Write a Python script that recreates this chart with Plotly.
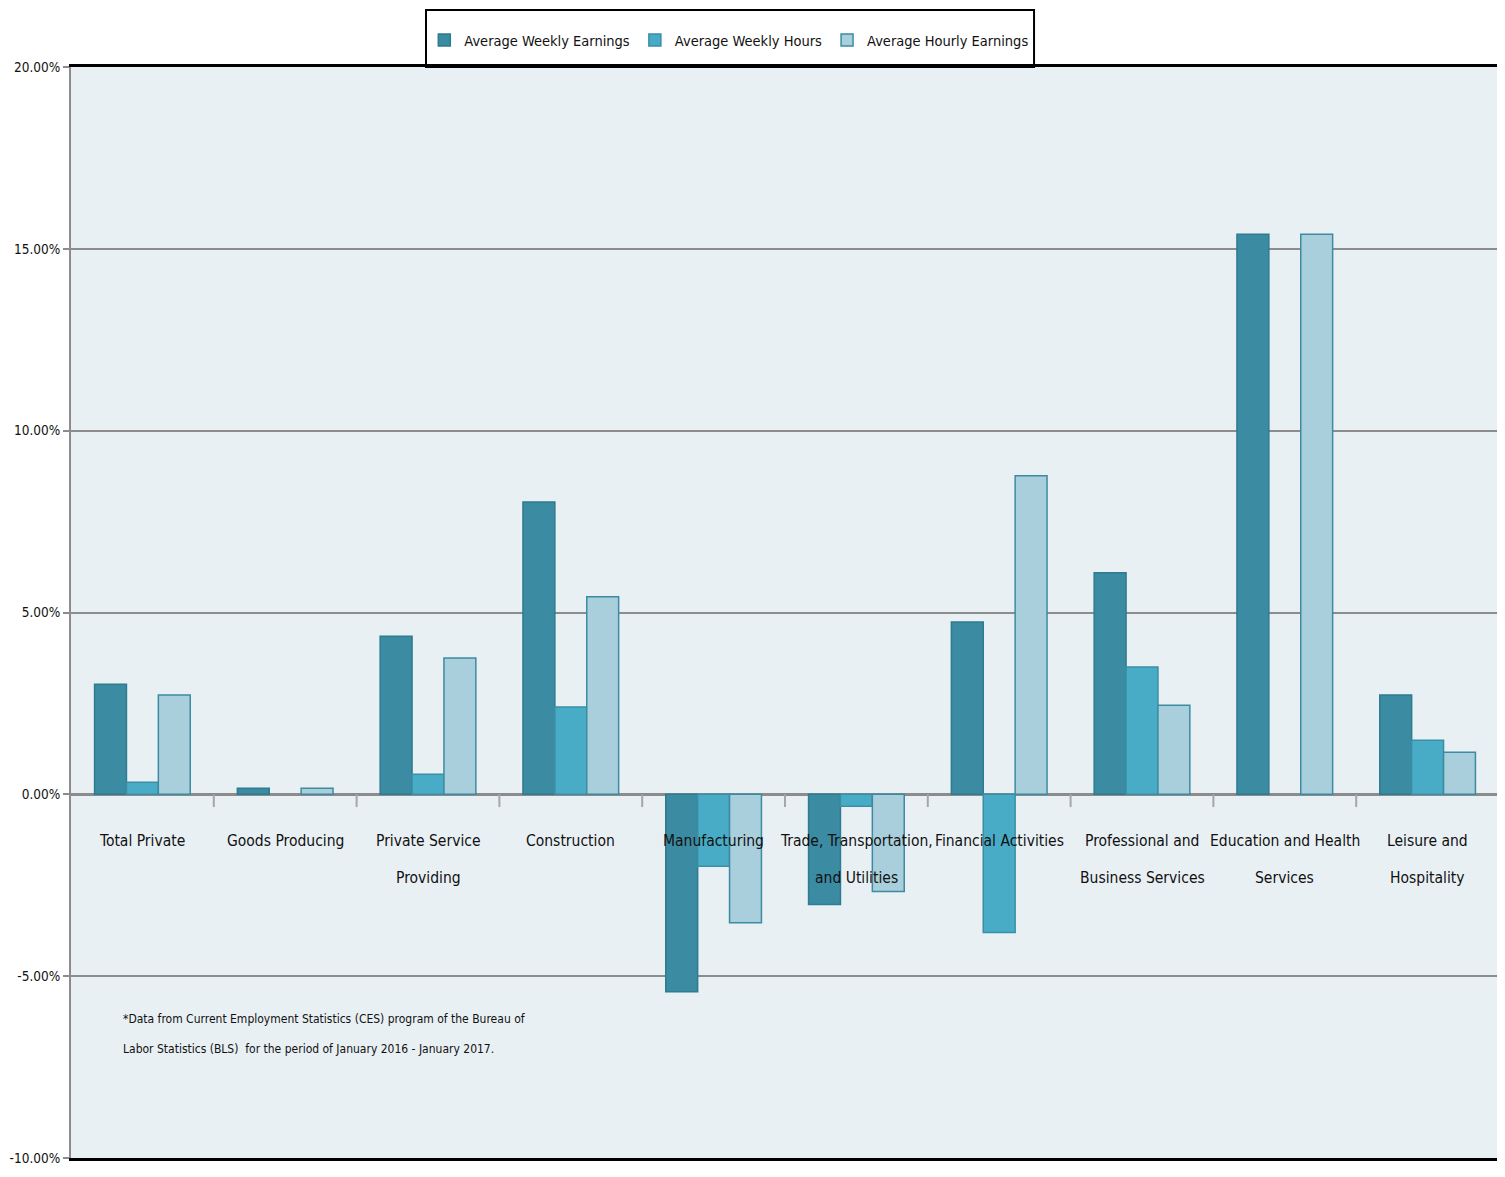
import plotly.graph_objects as go

categories = ["Total Private", "Goods Producing", "Private Service<br>Providing", "Construction",
              "Manufacturing", "Trade, Transportation,<br>and Utilities", "Financial Activities",
              "Professional and<br>Business Services", "Education and Health<br>Services",
              "Leisure and<br>Hospitality"]
avg_weekly_earnings = [3.03, 0.17, 4.35, 8.04, -5.43, -3.03, 4.74, 6.09, 15.40, 2.73]
avg_weekly_hours = [0.33, 0.0, 0.55, 2.40, -1.98, -0.33, -3.80, 3.50, 0.0, 1.49]
avg_hourly_earnings = [2.73, 0.17, 3.75, 5.43, -3.53, -2.67, 8.76, 2.45, 15.40, 1.16]
y_ticks = [-10, -5, 0, 5, 10, 15, 20]
y_tick_labels = ["-10.00%", "-5.00%", "0.00%", "5.00%", "10.00%", "15.00%", "20.00%"]
footnote_lines = ["*Data from Current Employment Statistics (CES) program of the Bureau of",
                  "Labor Statistics (BLS)  for the period of January 2016 - January 2017."]

FONT = "DejaVu Sans Condensed, Liberation Sans Narrow, sans-serif"
xs = list(range(len(categories)))

series = [
    ("Average Weekly Earnings", avg_weekly_earnings, "#3b8ba2", "#2f7b90"),
    ("Average Weekly Hours", avg_weekly_hours, "#49acc6", "#3a8fa6"),
    ("Average Hourly Earnings", avg_hourly_earnings, "#a9cfdd", "#3d8ba1"),
]

W, H = 1497, 1169  # page body has an 8px margin

fig = go.Figure()
for name, vals, col, lcol in series:
    widths = [0 if v == 0 else 1.5 for v in vals]
    fig.add_trace(go.Bar(x=xs, y=vals, name=name,
                         marker=dict(color=col, line=dict(color=lcol, width=widths))))

# category labels inside the plot, below the zero line (two lines with wide spacing)
line_y = [-1.27, -2.31]
for i, c in enumerate(categories):
    for j, part in enumerate(c.split("<br>")):
        fig.add_annotation(x=i, y=line_y[j], xref="x", yref="y", text=part, showarrow=False,
                           yanchor="middle", xanchor="center",
                           font=dict(family=FONT, size=15.5, color="#111"))
# small tick marks between categories on the zero line
for i in range(len(categories) - 1):
    fig.add_shape(type="line", x0=i + 0.5, x1=i + 0.5, y0=0, y1=-0.35, xref="x", yref="y",
                  line=dict(color="#a6a6a6", width=2))

# footnote
foot_y = [-6.17, -7.0]
for j, t in enumerate(footnote_lines):
    fig.add_annotation(x=0.035, y=foot_y[j], xref="paper", yref="y", text=t, showarrow=False,
                       xanchor="left", yanchor="middle", align="left",
                       font=dict(family=FONT, size=12, color="#111"))

# legend frame
fig.add_shape(type="rect", xref="paper", yref="paper", x0=0.2486, x1=0.6744, y0=1.0, y1=1.0522,
              line=dict(color="black", width=2), fillcolor="white", layer="below")

fig.update_layout(
    width=W, height=H,
    margin=dict(l=63, r=6, t=59, b=19),
    paper_bgcolor="white", plot_bgcolor="#e8f0f4",
    barmode="group", bargap=0.33, bargroupgap=0,
    font=dict(family=FONT, size=15, color="#111"),
    legend=dict(orientation="h", x=0.461, xanchor="center", xref="paper",
                y=1 - 32 / H, yanchor="middle", yref="container",
                bgcolor="rgba(0,0,0,0)", borderwidth=0,
                font=dict(family=FONT, size=14.5, color="#111"), itemwidth=30,
                traceorder="normal"),
    xaxis=dict(range=[-0.5, len(categories) - 0.5], showticklabels=False, showgrid=False,
               zeroline=False, showline=True, linecolor="black", linewidth=2.5, mirror=True,
               ticks="", automargin=False),
    yaxis=dict(range=[-10, 20], tickvals=y_ticks, ticktext=y_tick_labels, showgrid=True,
               gridcolor="#8c8c8c", gridwidth=2, zeroline=True, zerolinecolor="#8c8c8c",
               zerolinewidth=3, showline=True, linecolor="#8c8c8c", linewidth=2, mirror=True,
               ticks="outside", ticklen=6, tickcolor="#8c8c8c", tickwidth=2, automargin=False,
               tickfont=dict(family=FONT, size=13.5, color="#111")),
    showlegend=True,
)

fig.write_html("out.html")
